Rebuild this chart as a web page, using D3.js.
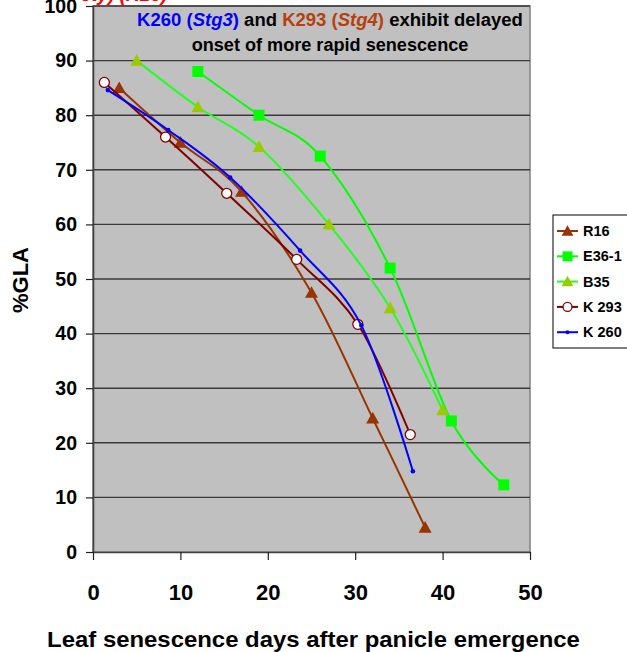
<!DOCTYPE html>
<html lang="en">
<head>
    <meta charset="UTF-8">
    <script src="https://d3js.org/d3.v7.min.js"></script>
    <title>%GLA senescence</title>
    <style>
        body { margin: 0; background: white; }
        text { font-family: "Liberation Sans", Arial, sans-serif; font-weight: bold; }
    </style>
</head>
<body>
    <div id="chart"></div>
    <script>
        // ---- data ----
        const xTicks = [0, 10, 20, 30, 40, 50];
        const yTicks = [0, 10, 20, 30, 40, 50, 60, 70, 80, 90, 100];

        const r16Days  = [3, 10, 17, 25, 32, 38];
        const r16GLA   = [85, 75, 66, 47.5, 24.5, 4.5];
        const e36Days  = [12, 19, 26, 34, 41, 47];
        const e36GLA   = [88, 80, 72.5, 52, 24, 12.3];
        const b35Days  = [5, 12, 19, 27, 34, 40];
        const b35GLA   = [90, 81.5, 74.2, 60, 44.7, 26];
        const k293Days = [1.3, 8.3, 15.3, 23.3, 30.3, 36.3];
        const k293GLA  = [86, 76, 65.7, 53.6, 41.7, 21.5];
        const k260Days = [1.7, 8.6, 15.7, 23.7, 30.7, 36.6];
        const k260GLA  = [84.6, 77.3, 68.6, 55.2, 41.5, 14.8];

        const seriesNames = ["R16", "E36-1", "B35", "K 293", "K 260"];

        // styles per series
        const series = [
            { name: seriesNames[0], xs: r16Days,  ys: r16GLA,  line: "#993300", marker: "triangle", fill: "#993300", stroke: "#993300" },
            { name: seriesNames[1], xs: e36Days,  ys: e36GLA,  line: "#00ff00", marker: "square",   fill: "#00ff00", stroke: "#00ff00" },
            { name: seriesNames[2], xs: b35Days,  ys: b35GLA,  line: "#22ff22", marker: "triangle", fill: "#99cc00", stroke: "#99cc00" },
            { name: seriesNames[3], xs: k293Days, ys: k293GLA, line: "#800000", marker: "circle",   fill: "#ffffff", stroke: "#800000" },
            { name: seriesNames[4], xs: k260Days, ys: k260GLA, line: "#0000ff", marker: "dot",      fill: "#0000ff", stroke: "#0000ff" }
        ];

        const width = 627, height = 652;
        const svg = d3.select("#chart").append("svg")
            .attr("width", width)
            .attr("height", height);

        const x = d3.scaleLinear().domain([0, 50]).range([93, 530]);
        const y = d3.scaleLinear().domain([0, 100]).range([552, 6]);

        // squeeze a text horizontally so it spans a given width
        const fitWidth = (sel, w, ax) => {
            const bw = sel.node().getBBox().width;
            const k = w / bw;
            sel.attr("transform", `translate(${ax},0) scale(${k},1) translate(${-ax},0)`);
        };

        // plot area
        svg.append("rect")
            .attr("x", x(0)).attr("y", y(100))
            .attr("width", x(50) - x(0)).attr("height", y(0) - y(100))
            .attr("fill", "#c0c0c0")
            .attr("stroke", "#808080")
            .attr("stroke-width", 1.5);

        svg.append("g").selectAll("line")
            .data(yTicks.filter(d => d > 0))
            .enter().append("line")
            .attr("x1", x(0)).attr("x2", x(50))
            .attr("y1", d => y(d)).attr("y2", d => y(d))
            .attr("stroke", "#3a3a3a")
            .attr("stroke-width", 1.4);

        // axes
        const yAxis = svg.append("g")
            .attr("transform", `translate(${x(0)},0)`)
            .call(d3.axisLeft(y).tickValues(yTicks).tickSize(7).tickSizeOuter(0).tickPadding(9));
        yAxis.selectAll("text").style("font-size", "19.5px").attr("fill", "#000");

        const xAxis = svg.append("g")
            .attr("transform", `translate(0,${y(0)})`)
            .call(d3.axisBottom(x).tickValues(xTicks).tickSize(8).tickSizeOuter(0).tickPadding(24));
        xAxis.selectAll("text").style("font-size", "22px").attr("fill", "#000");

        [yAxis, xAxis].forEach(a => {
            a.select(".domain").attr("stroke", "#404040").attr("stroke-width", 1.6);
            a.selectAll(".tick line").attr("stroke", "#202020").attr("stroke-width", 1.2);
        });

        // lines
        const lineGen = d3.line()
            .x(d => x(d[0]))
            .y(d => y(d[1]))
            .curve(d3.curveCardinal.tension(0));

        const drawMarker = (g, type, cx, cy, s, scale = 1) => {
            if (type === "triangle") {
                const r = 6.5 * scale;
                g.append("path")
                    .attr("d", `M${cx},${cy - r} L${cx + r},${cy + r * 0.8} L${cx - r},${cy + r * 0.8} Z`)
                    .attr("fill", s.fill);
            } else if (type === "square") {
                const h = 5.5 * scale;
                g.append("rect")
                    .attr("x", cx - h).attr("y", cy - h)
                    .attr("width", 2 * h).attr("height", 2 * h)
                    .attr("fill", s.fill);
            } else if (type === "circle") {
                g.append("circle")
                    .attr("cx", cx).attr("cy", cy).attr("r", 5 * scale)
                    .attr("fill", s.fill)
                    .attr("stroke", s.stroke)
                    .attr("stroke-width", 1.3);
            } else {
                g.append("circle")
                    .attr("cx", cx).attr("cy", cy).attr("r", 2.3 * scale)
                    .attr("fill", s.fill);
            }
        };

        series.forEach(s => {
            const pts = s.xs.map((d, i) => [d, s.ys[i]]);
            const g = svg.append("g");
            g.append("path")
                .attr("d", lineGen(pts))
                .attr("fill", "none")
                .attr("stroke", s.line)
                .attr("stroke-width", 2);
            pts.forEach(p => drawMarker(g, s.marker, x(p[0]), y(p[1]), s));
        });

        // legend
        const legend = svg.append("g");
        legend.append("rect")
            .attr("x", 553).attr("y", 215)
            .attr("width", 100).attr("height", 133)
            .attr("fill", "white")
            .attr("stroke", "#000")
            .attr("stroke-width", 1);

        series.forEach((s, i) => {
            const by = 236 + i * 25.3;
            const my = by - 5;
            legend.append("line")
                .attr("x1", 557).attr("x2", 578)
                .attr("y1", my).attr("y2", my)
                .attr("stroke", s.line)
                .attr("stroke-width", 2);
            drawMarker(legend, s.marker, 567.5, my, s, 0.9);
            legend.append("text")
                .attr("x", 583).attr("y", by)
                .style("font-size", "14.5px")
                .text(s.name);
        });

        // axis titles
        const xt = svg.append("text")
            .attr("x", 313.5).attr("y", 647)
            .attr("text-anchor", "middle")
            .style("font-size", "22px")
            .text("Leaf senescence days after panicle emergence");
        fitWidth(xt, 533, 313.5);

        svg.append("text")
            .attr("transform", "translate(28,280) rotate(-90)")
            .attr("text-anchor", "middle")
            .style("font-size", "22px")
            .text("%GLA");

        // clipped red heading above the plot
        svg.append("text")
            .attr("x", 167).attr("y", 1)
            .attr("text-anchor", "end")
            .attr("fill", "#ff0000")
            .style("font-size", "19px")
            .style("font-style", "italic")
            .text("ety) (R16)");

        // annotation inside plot
        const t1 = svg.append("text")
            .attr("x", 330).attr("y", 26)
            .attr("text-anchor", "middle")
            .style("font-size", "19px");
        t1.append("tspan").attr("fill", "#0000ff").text("K260 (");
        t1.append("tspan").attr("fill", "#0000ff").style("font-style", "italic").text("Stg3");
        t1.append("tspan").attr("fill", "#0000ff").text(")");
        t1.append("tspan").attr("fill", "#000").text(" and ");
        t1.append("tspan").attr("fill", "#b5400d").text("K293 (");
        t1.append("tspan").attr("fill", "#b5400d").style("font-style", "italic").text("Stg4");
        t1.append("tspan").attr("fill", "#b5400d").text(")");
        t1.append("tspan").attr("fill", "#000").text(" exhibit delayed");
        fitWidth(t1, 386, 330);

        const t2 = svg.append("text")
            .attr("x", 330).attr("y", 51)
            .attr("text-anchor", "middle")
            .style("font-size", "19px")
            .text("onset of more rapid senescence");
        fitWidth(t2, 277, 330);
    </script>
</body>
</html>
